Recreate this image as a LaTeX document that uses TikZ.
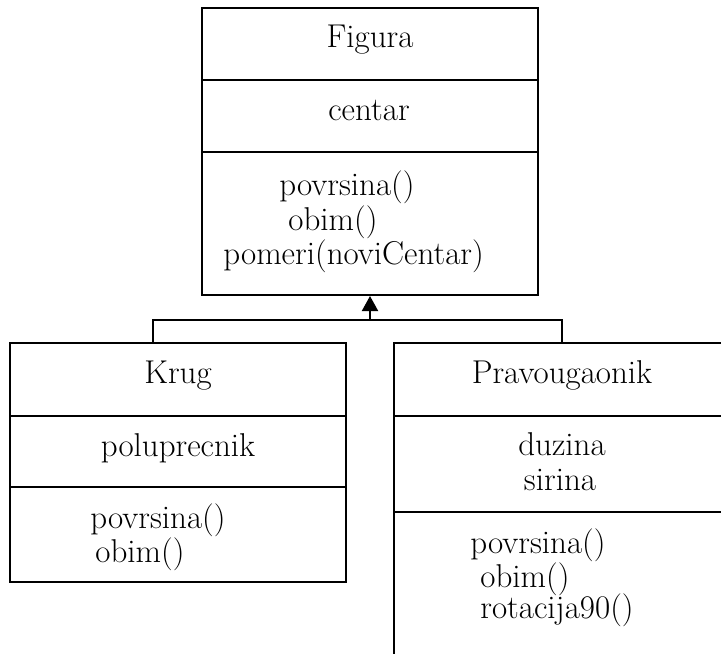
\documentclass[tikz,border=0pt]{standalone}
\usetikzlibrary{arrows.meta}

\tikzset{
	klasa/.style={draw, line width=1pt, minimum width=168pt, inner sep=0pt},
	naslov/.style={anchor=base, inner sep=0pt},
	clan/.style={anchor=base west, inner sep=0pt},
	linija/.style={line width=1pt},
}

\begin{document}
\begin{tikzpicture}[x=0.5pt, y=-0.5pt, font=\fontsize{16.5}{17}\selectfont]

	\useasboundingbox (0,0) rectangle (721,653);
	\clip (0,0) rectangle (721,653);

	% klase
	\node[klasa, minimum height=143.5pt] (figura) at (370,151.5) {};
	\node[klasa, minimum height=119.5pt] (krug) at (178,462.5) {};
	\node[klasa, minimum height=178.5pt] (prav) at (562,521.5) {};

	\foreach \n/\y in {figura/80, figura/152, krug/416, krug/487, prav/416, prav/512}
		\draw[linija] (\n.west |- 0,\y) -- (\n.east |- 0,\y);

	% nazivi i atributi
	\node[naslov] (figuraIme) at (370,47) {Figura};
	\node[naslov] (figuraAtr) at (369,120) {centar};
	\node[naslov] (krugIme) at (178,383) {Krug};
	\node[naslov] (krugAtr) at (178,456) {poluprecnik};
	\node[naslov] (pravIme) at (562,383) {Pravougaonik};
	\node[naslov] (pravAtr1) at (562,455) {duzina};
	\node[naslov] (pravAtr2) at (560,490) {sirina};

	% metode
	\foreach \t/\x/\y [count=\i] in {{povrsina()}/279/195, {obim()}/288/230, {pomeri(noviCentar)}/223/264}
		\node[clan] (fm\i) at (\x,\y) {\t};
	\foreach \t/\x/\y [count=\i] in {{povrsina()}/90/528, {obim()}/95/562}
		\node[clan] (km\i) at (\x,\y) {\t};
	\foreach \t/\x/\y [count=\i] in {{povrsina()}/470/553, {obim()}/480/587, {rotacija90()}/480/618}
		\node[clan] (pm\i) at (\x,\y) {\t};

	% nasledjivanje
	\coordinate (spoj) at (370,320);
	\draw[linija] (krug.north west) ++(144,0) |- (spoj);
	\draw[linija] (prav.north) |- (spoj);
	\draw[linija, -{Triangle[length=7.5pt, width=8pt]}] (spoj) -- (figura.south);

\end{tikzpicture}
\end{document}
